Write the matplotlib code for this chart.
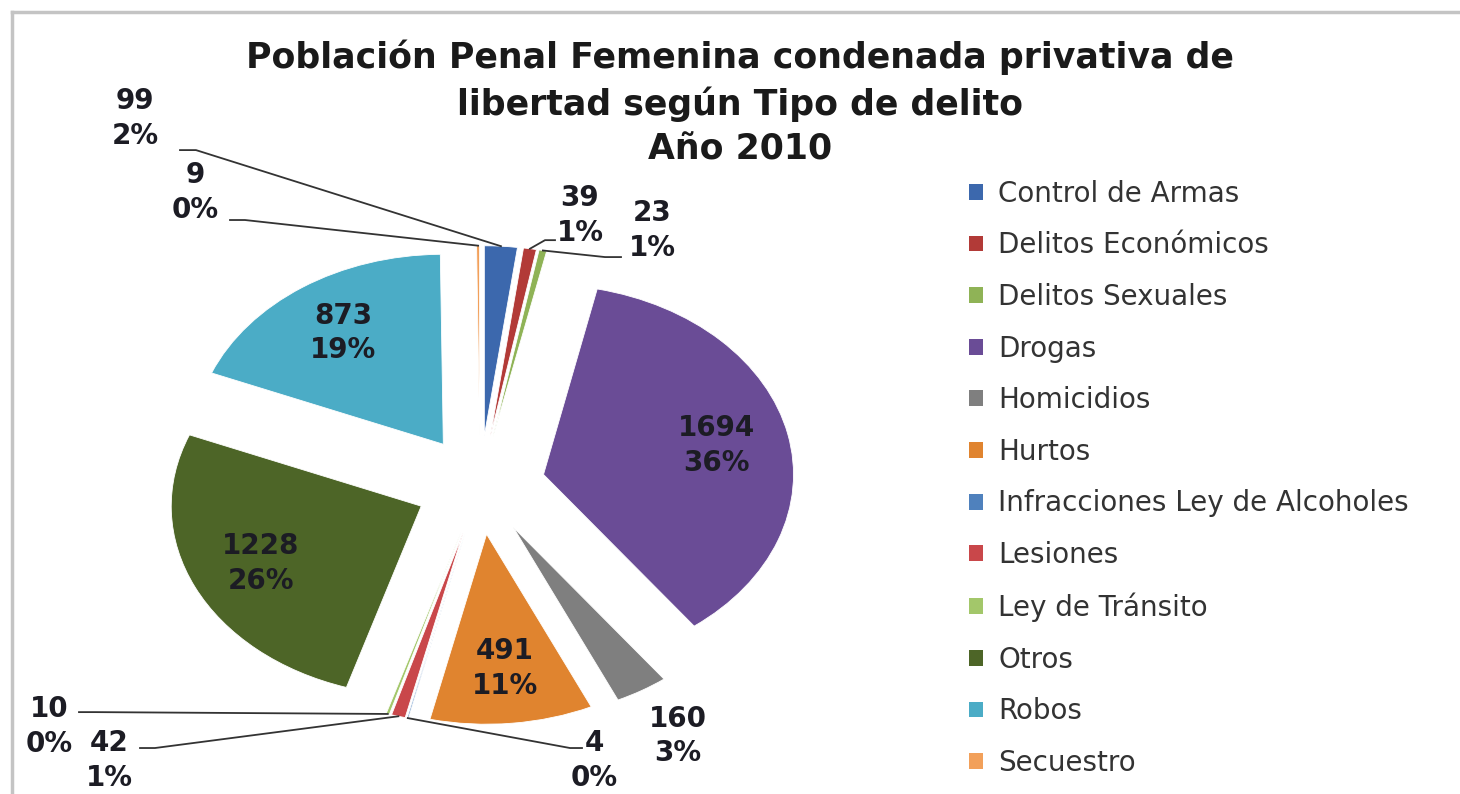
import numpy as np
import matplotlib.pyplot as plt
from matplotlib.lines import Line2D
from matplotlib.patches import Patch

# Data
categorias = ['Control de Armas', 'Delitos Económicos', 'Delitos Sexuales', 'Drogas',
              'Homicidios', 'Hurtos', 'Infracciones Ley de Alcoholes', 'Lesiones',
              'Ley de Tránsito', 'Otros', 'Robos', 'Secuestro']
valores = [99, 39, 23, 1694, 160, 491, 4, 42, 10, 1228, 873, 9]
porcentajes = ['2%', '1%', '1%', '36%', '3%', '11%', '0%', '1%', '0%', '26%', '19%', '0%']
colores = ['#3c68ad', '#b23a37', '#8fb356', '#6a4c96', '#7f7f7f', '#e0842f',
           '#4f81bd', '#c9474a', '#a3c76a', '#4d6527', '#4bacc6', '#f2a05a']

inside = ['Drogas', 'Hurtos', 'Otros', 'Robos']

# label placement (data units, unit circle = pie radius)
ext_pos = {
    'Control de Armas': (-1.38, 1.93),
    'Secuestro': (-1.14, 1.54),
    'Delitos Económicos': (0.40, 1.42),
    'Delitos Sexuales': (0.69, 1.34),
    'Homicidios': (0.79, -1.32),
    'Infracciones Ley de Alcoholes': (0.456, -1.45),
    'Lesiones': (-1.484, -1.45),
    'Ley de Tránsito': (-1.724, -1.27),
}
leader_start = {
    'Control de Armas': [(-1.20, 1.763), (-1.136, 1.763)],
    'Secuestro': [(-1.00, 1.395), (-0.94, 1.395)],
    'Delitos Económicos': [(0.30, 1.289), (0.26, 1.289)],
    'Delitos Sexuales': [(0.564, 1.20), (0.50, 1.20)],
    'Infracciones Ley de Alcoholes': [(0.408, -1.384), (0.36, -1.384)],
    'Lesiones': [(-1.36, -1.384), (-1.30, -1.384)],
    'Ley de Tránsito': [(-1.604, -1.195), (-1.54, -1.195)],
}

fig = plt.figure(figsize=(14.6, 7.94), dpi=100)
ax = fig.add_axes([0, 0, 1, 1])

wedges, _ = ax.pie(valores, colors=colores, startangle=90, counterclock=False,
                   explode=[0.26] * len(valores), radius=1,
                   wedgeprops=dict(linewidth=0.6, edgecolor='white'))
ax.set_aspect('auto')
ax.set_xlim(-1.92, 3.92)
ax.set_ylim(-1.626, 2.553)
ax.axis('off')

label_font = dict(family='DejaVu Sans', fontweight='bold', fontsize=20,
                  color='#1c1c24', ha='center', va='center', linespacing=1.3)

for w, cat, v, p in zip(wedges, categorias, valores, porcentajes):
    mid = np.deg2rad((w.theta1 + w.theta2) / 2)
    cx, cy = w.center
    txt = f'{v}\n{p}'
    if cat in inside:
        ax.text(cx + 0.71 * np.cos(mid), cy + 0.71 * np.sin(mid), txt, **label_font)
    else:
        tx, ty = ext_pos[cat]
        ax.text(tx, ty, txt, **label_font)
        if cat in leader_start:
            ex, ey = cx + np.cos(mid), cy + np.sin(mid)
            pts = leader_start[cat] + [(ex, ey)]
            ax.plot([q[0] for q in pts], [q[1] for q in pts], color='#333333', lw=1.3)

fig.text(0.507, 0.870, 'Población Penal Femenina condenada privativa de\nlibertad según Tipo de delito\nAño 2010',
         ha='center', va='center', fontsize=25, fontweight='bold', family='DejaVu Sans',
         color='#1a1a1a', linespacing=1.4)

handles = [Patch(facecolor=c, edgecolor='none') for c in colores]
fig.legend(handles, categorias, loc='upper left', bbox_to_anchor=(0.6466, 0.805),
           frameon=False, prop={'family': 'DejaVu Sans', 'size': 20},
           labelcolor='#333333', handlelength=0.5, handleheight=0.5,
           handletextpad=0.55, labelspacing=0.85)

# outer chart frame
fig.add_artist(Line2D([12 / 1460, 1.0], [1 - 12 / 794, 1 - 12 / 794], color='#c4c4c4', lw=2.5))
fig.add_artist(Line2D([12 / 1460, 12 / 1460], [0.0, 1 - 12 / 794], color='#c4c4c4', lw=2.5))

fig.savefig('out.png', dpi=100)
